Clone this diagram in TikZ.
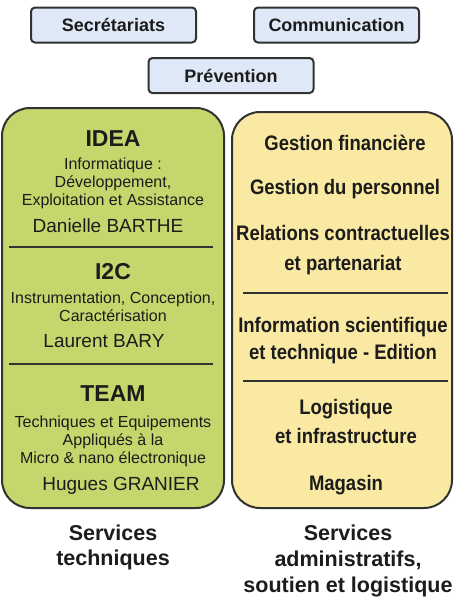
\documentclass[tikz,border=0pt]{standalone}
\usepackage{fontspec}
\setmainfont{Liberation Sans}
\newfontfamily\narrowbold[FakeStretch=0.88]{Liberation Sans Bold}

\definecolor{boxblue}{RGB}{222,232,246}
\definecolor{techgreen}{RGB}{197,215,108}
\definecolor{adminyellow}{RGB}{250,233,162}
\definecolor{edge}{RGB}{50,50,50}
\definecolor{ink}{RGB}{28,28,28}

\begin{document}
\begin{tikzpicture}[x=1pt,y=-1pt,line width=2pt,
  topbox/.style={draw=edge,fill=boxblue,rounded corners=4,minimum width=165,minimum height=35,inner sep=0,text=ink,font=\bfseries\fontsize{18}{20}\selectfont},
  panel/.style={draw=edge,rounded corners=28},
  divider/.style={draw=edge,line width=1.6pt},
  txt/.style={anchor=base,inner sep=0,text=ink},
  headtxt/.style={txt,font=\bfseries\fontsize{23}{25}\selectfont},
  desctxt/.style={txt,font=\fontsize{16}{18}\selectfont},
  nametxt/.style={txt,font=\fontsize{19}{21}\selectfont},
  admintxt/.style={txt,font=\narrowbold\fontsize{21}{23}\selectfont},
  labeltxt/.style={txt,font=\bfseries\fontsize{21.5}{24}\selectfont}]

\useasboundingbox [fill=white] (0,0) rectangle (454,598);

% transverse services
\node [topbox] (secr) at (113.5,25) {Secrétariats};
\node [topbox] (comm) at (336.5,25) {Communication};
\node [topbox] (prev) at (231,75.5) {Prévention};

% the two columns
\draw [panel,fill=techgreen] (2,108) rectangle (224,508);
\draw [panel,fill=adminyellow] (232,112) rectangle (452,508);

\draw [divider] (9,247) -- (213,247);
\draw [divider] (9,364) -- (213,364);
\draw [divider] (243,293) -- (448,293);
\draw [divider] (243,381) -- (448,381);

% technical services
\node [headtxt] (idea) at (113,146) {IDEA};
\node [desctxt] (idea-d1) at (113,169) {Informatique :};
\node [desctxt] (idea-d2) at (113,187) {Développement,};
\node [desctxt] (idea-d3) at (113,205) {Exploitation et Assistance};
\node [nametxt] (idea-head) at (108,232) {Danielle BARTHE};

\node [headtxt] (itwoc) at (113,279) {I2C};
\node [desctxt] (itwoc-d1) at (113,303) {Instrumentation, Conception,};
\node [desctxt] (itwoc-d2) at (113,321) {Caractérisation};
\node [nametxt] (itwoc-head) at (104,347) {Laurent BARY};

\node [headtxt] (team) at (113,401) {TEAM};
\node [desctxt] (team-d1) at (113,427) {Techniques et Equipements};
\node [desctxt] (team-d2) at (113,445) {Appliqués à la};
\node [desctxt] (team-d3) at (113,463) {Micro \& nano électronique};
\node [nametxt] (team-head) at (121,490) {Hugues GRANIER};

% administrative services
\node [admintxt] (finance) at (345,150) {Gestion financière};
\node [admintxt] (staff) at (345,194) {Gestion du personnel};
\node [admintxt] (contract-1) at (343,240) {Relations contractuelles};
\node [admintxt] (contract-2) at (343,270) {et partenariat};
\node [admintxt] (info-1) at (343,332) {Information scientifique};
\node [admintxt] (info-2) at (343,359) {et technique - Edition};
\node [admintxt] (logis-1) at (346,414) {Logistique};
\node [admintxt] (logis-2) at (346,443) {et infrastructure};
\node [admintxt] (store) at (346,490) {Magasin};

% captions
\node [labeltxt] (tech-1) at (113,540) {Services};
\node [labeltxt] (tech-2) at (113,565) {techniques};
\node [labeltxt] (admin-1) at (348,540) {Services};
\node [labeltxt] (admin-2) at (348,566) {administratifs,};
\node [labeltxt] (admin-3) at (348,592) {soutien et logistique};

\end{tikzpicture}
\end{document}
